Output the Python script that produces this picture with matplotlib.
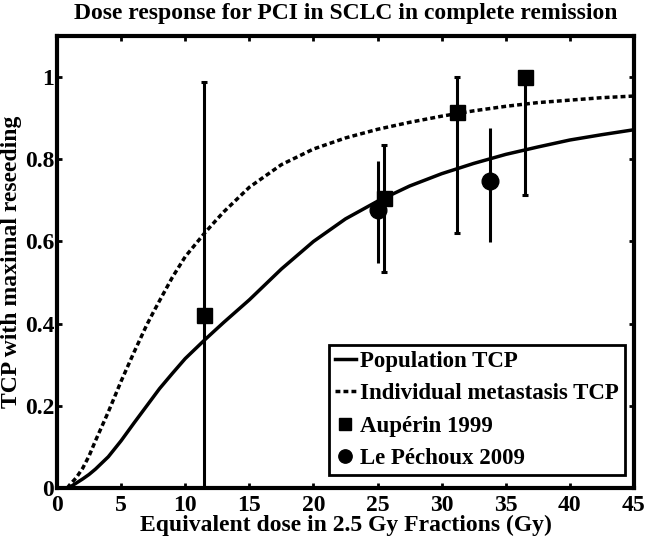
import matplotlib
matplotlib.use('Agg')
import matplotlib.pyplot as plt

# model curves
dose_curve = [0.8, 1, 1.5, 2, 2.5, 3, 4, 5, 6, 7, 7.5, 8, 9, 10, 11.5, 12.3, 13,
              15, 17.5, 20, 22.5, 25, 27.5, 30, 32.5, 35, 37.5, 40, 42.5, 45]
tcp_population = [0, 0.002, 0.012, 0.022, 0.033, 0.046, 0.076, 0.115, 0.158,
                  0.2, 0.221, 0.242, 0.279, 0.315, 0.36, 0.383, 0.403, 0.458,
                  0.533, 0.6, 0.655, 0.698, 0.735, 0.765, 0.79, 0.812, 0.83,
                  0.847, 0.86, 0.872]
tcp_individual = [0, 0.008, 0.025, 0.048, 0.078, 0.115, 0.185, 0.26, 0.33,
                  0.397, 0.427, 0.456, 0.513, 0.563, 0.62, 0.648, 0.672, 0.732,
                  0.787, 0.825, 0.852, 0.873, 0.89, 0.905, 0.918, 0.929, 0.938,
                  0.944, 0.95, 0.954]

# Auperin 1999
aup_dose = [11.5, 25.5, 31.2, 36.5]
aup_tcp = [0.42, 0.705, 0.916, 1.0]
aup_low = [0.0, 0.525, 0.62, 0.714]
aup_high = [0.989, 0.834, 1.0, 1.0]

# Le Pechoux 2009
lep_dose = [25.0, 33.8]
lep_tcp = [0.676, 0.748]
lep_low = [0.548, 0.599]
lep_high = [0.795, 0.876]

xticks = [0, 5, 10, 15, 20, 25, 30, 35, 40, 45]
yticks = [0, 0.2, 0.4, 0.6, 0.8, 1]
ytick_labels = ['0', '0.2', '0.4', '0.6', '0.8', '1']

plt.rcParams['font.family'] = ['Liberation Serif', 'DejaVu Serif']
plt.rcParams['font.weight'] = 'bold'
plt.rcParams['font.size'] = 17

fig = plt.figure(figsize=(6.47, 5.38), dpi=100)
ax = fig.add_axes([0.0881, 0.0929, 0.8918, 0.8401])

ax.plot(dose_curve, tcp_population, 'k-', lw=2.5, label='Population TCP')
ax.plot(dose_curve, tcp_individual, color='k', lw=2.5, ls=(0, (1.4, 0.9)),
        dash_capstyle='butt', label='Individual metastasis TCP')

# error bars (no legend), then markers
aup_err = [[t - l for t, l in zip(aup_tcp, aup_low)],
           [h - t for t, h in zip(aup_tcp, aup_high)]]
lep_err = [[t - l for t, l in zip(lep_tcp, lep_low)],
           [h - t for t, h in zip(lep_tcp, lep_high)]]
ax.errorbar(aup_dose, aup_tcp, yerr=aup_err, fmt='none', ecolor='k',
            elinewidth=2.2, capsize=2.2, capthick=2.2)
ax.errorbar(lep_dose, lep_tcp, yerr=lep_err, fmt='none', ecolor='k',
            elinewidth=2.2, capsize=0)
ax.plot(aup_dose, aup_tcp, 'ks', ms=10.8, label='Aupérin 1999')
ax.plot(lep_dose, lep_tcp, 'ko', ms=12, label='Le Péchoux 2009')

ax.set_xlim(0, 45)
ax.set_ylim(0, 1.1)
ax.set_xticks(xticks)
ax.set_yticks(yticks)
ax.set_yticklabels(ytick_labels)
ax.tick_params(direction='in', length=3.5, width=2, top=True, right=True,
               labelsize=17)
ax.tick_params(axis='x', pad=5)
ax.tick_params(axis='y', pad=2)
for sp in ax.spines.values():
    sp.set_linewidth(3)

ax.set_title('Dose response for PCI in SCLC in complete remission',
             fontsize=17, fontweight='bold', pad=12)
ax.set_xlabel('Equivalent dose in 2.5 Gy Fractions (Gy)', fontsize=17,
              fontweight='bold', labelpad=-1)
ax.set_ylabel('TCP with maximal reseeding', fontsize=17, fontweight='bold',
              labelpad=2)

leg = ax.legend(loc='lower right', bbox_to_anchor=(0.984, 0.029),
                borderaxespad=0, fancybox=False, edgecolor='k', framealpha=1,
                handlelength=0.9, handletextpad=0.2, borderpad=0.25,
                labelspacing=0.5, markerscale=0.8, fontsize=16.5)
leg.get_frame().set_linewidth(2)

fig.savefig('out.png', dpi=100)
